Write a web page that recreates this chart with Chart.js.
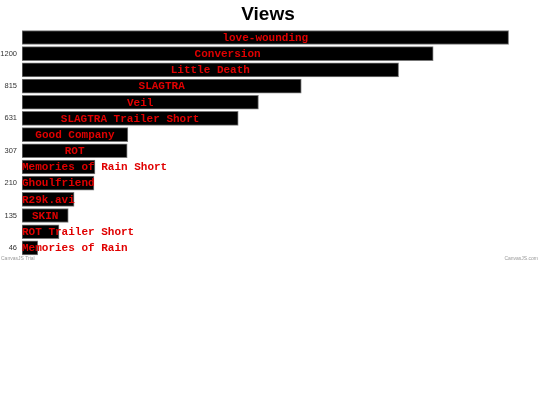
<!DOCTYPE html>
<html>
<head>
<meta charset="utf-8">
<script src="https://cdn.jsdelivr.net/npm/chart.js@4/dist/chart.umd.min.js"></script>
<style>
  html, body { margin: 0; padding: 0; background: #fff; }
  #wrap { position: relative; width: 540px; height: 262px; }
</style>
</head>
<body>
<div id="wrap"><canvas id="c"></canvas></div>
<script>
const titleText = "Views";
const categories = [
  "love-wounding", "Conversion", "Little Death", "SLAGTRA", "Veil",
  "SLAGTRA Trailer Short", "Good Company", "ROT", "Memories of Rain Short",
  "Ghoulfriend", "R29k.avi", "SKIN", "ROT Trailer Short", "Memories of Rain"
];
const views = [1420, 1200, 1099, 815, 690, 631, 309, 307, 213, 210, 152, 135, 108, 46];
const tickLabels = ["", "1200", "", "815", "", "631", "", "307", "", "210", "", "135", "", "46"];
const watermarkLeft = "CanvasJS Trial";
const watermarkRight = "CanvasJS.com";

const barLabelPlugin = {
  id: 'barLabels',
  afterDatasetsDraw(chart) {
    const ctx = chart.ctx;
    const meta = chart.getDatasetMeta(0);
    ctx.save();
    ctx.font = 'bold 11px "Liberation Mono", "Courier New", monospace';
    ctx.fillStyle = '#e00000';
    ctx.textBaseline = 'middle';
    meta.data.forEach((bar, i) => {
      const text = categories[i];
      const w = ctx.measureText(text).width;
      const left = Math.min(bar.base, bar.x);
      const barW = Math.abs(bar.x - bar.base);
      let x;
      if (w <= barW) { x = left + (barW - w) / 2; } else { x = left; }
      ctx.textAlign = 'left';
      ctx.fillText(text, x, bar.y + 0.5);
    });
    ctx.restore();
  },
  afterDraw(chart) {
    const ctx = chart.ctx;
    ctx.save();
    ctx.font = '5px "Liberation Sans", Arial, sans-serif';
    ctx.fillStyle = '#999';
    ctx.textBaseline = 'middle';
    ctx.textAlign = 'left';
    ctx.fillText(watermarkLeft, 1, 258.5);
    ctx.textAlign = 'right';
    ctx.fillText(watermarkRight, 538, 258.5);
    ctx.restore();
  }
};

new Chart(document.getElementById('c'), {
  type: 'bar',
  data: {
    labels: categories,
    datasets: [{
      data: views,
      backgroundColor: '#000000',
      borderColor: '#777777',
      borderWidth: 1,
      borderSkipped: false,
      barThickness: 14
    }]
  },
  options: {
    indexAxis: 'y',
    responsive: true,
    maintainAspectRatio: false,
    animation: false,
    layout: { padding: { left: 0, right: 4, top: 0, bottom: 6 } },
    plugins: {
      legend: { display: false },
      tooltip: { enabled: false },
      title: {
        display: true,
        text: titleText,
        color: '#000',
        font: { family: '"Liberation Sans", Arial, sans-serif', size: 19, weight: 'bold' },
        padding: { top: 3, bottom: 3.6 }
      }
    },
    scales: {
      x: {
        display: false,
        min: 0,
        max: 1500
      },
      y: {
        offset: true,
        grid: { display: false, drawTicks: false },
        border: { display: false },
        afterFit(scale) { scale.width = 22; scale.paddingTop = 0; scale.paddingBottom = 0; },
        ticks: {
          autoSkip: false,
          color: '#333',
          padding: 5,
          font: { family: '"Liberation Sans", Arial, sans-serif', size: 7.5 },
          callback: (v, i) => tickLabels[i]
        }
      }
    }
  },
  plugins: [barLabelPlugin]
});
</script>
</body>
</html>
